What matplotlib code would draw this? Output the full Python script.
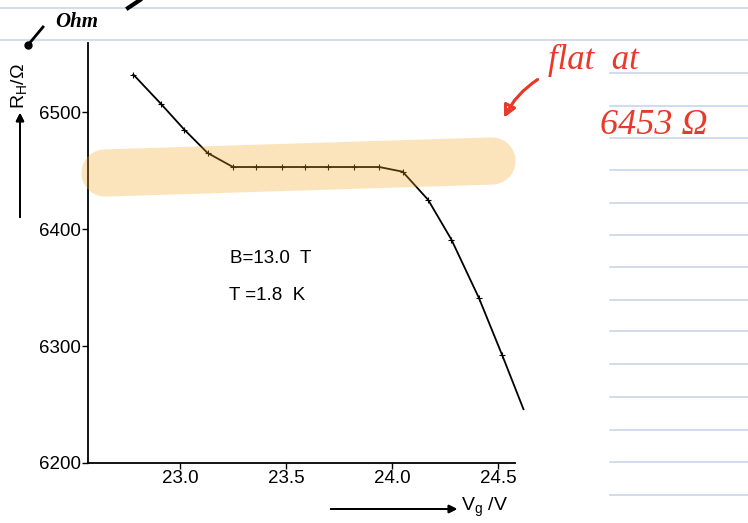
import matplotlib.pyplot as plt
from matplotlib.lines import Line2D

plt.rcParams['font.family'] = ['Liberation Sans', 'DejaVu Sans']
plt.rcParams['mathtext.fontset'] = 'custom'
plt.rcParams['mathtext.rm'] = 'Liberation Sans'

# gate voltage (V) and Hall resistance (Ohm)
v_gate = [22.78, 22.91, 23.02, 23.13, 23.25, 23.36, 23.48, 23.59, 23.70,
          23.82, 23.94, 24.05, 24.17, 24.28, 24.41, 24.52]
r_hall = [6532, 6507, 6485, 6465, 6453, 6453, 6453, 6453, 6453,
          6453, 6453, 6449, 6425, 6391, 6341, 6292]
v_end, r_end = 24.62, 6246
x_ticks = [23.0, 23.5, 24.0, 24.5]
x_ticklabels = ['23.0', '23.5', '24.0', '24.5']
y_ticks = [6200, 6300, 6400, 6500]

W, H = 748, 523


def px(x, y):
    return x / W, 1 - y / H


fig = plt.figure(figsize=(W / 100, H / 100), dpi=100)

# notebook ruling
rule = '#c9d5e6'
for y in [8, 40]:
    fig.add_artist(Line2D([0, 1], [1 - y / H] * 2, color=rule, lw=1.2, zorder=0))
for y in [73, 106, 138, 170, 203, 235, 267, 300, 331, 364, 397, 430, 462, 495]:
    fig.add_artist(Line2D([610 / W, 1], [1 - y / H] * 2, color=rule, lw=1.2, zorder=0))

ax = fig.add_axes([88 / W, 60 / H, 427 / W, 420 / H])
ax.patch.set_alpha(0)
ax.plot(v_gate + [v_end], r_hall + [r_end], color='black', lw=1.3, clip_on=False)
ax.plot(v_gate, r_hall, ls='none', marker='+', ms=4, mew=0.8, color='black', clip_on=False)
ax.set_xlim(22.566, 24.58)
ax.set_ylim(6200, 6559)
ax.set_xticks(x_ticks)
ax.set_xticklabels(x_ticklabels)
ax.set_yticks(y_ticks)
for s in ['top', 'right']:
    ax.spines[s].set_visible(False)
for s in ['left', 'bottom']:
    ax.spines[s].set_linewidth(1.3)
ax.tick_params(labelsize=13.5, length=4, width=1, direction='out', pad=1)
ax.text(*px(230, 258), 'B=13.0  T', transform=fig.transFigure, fontsize=13.5, va='center')
ax.text(*px(229, 295), 'T =1.8  K', transform=fig.transFigure, fontsize=13.5, va='center')

# axis labels with arrows
fig.text(*px(20, 86), r'R$_\mathregular{H}$/Ω', rotation=90, fontsize=14,
         ha='center', va='center')
fig.add_artist(plt.annotate('', xy=px(20, 110), xytext=px(20, 220),
                            xycoords='figure fraction',
                            arrowprops=dict(arrowstyle='-|>', color='black', lw=1.3,
                                            mutation_scale=12)))
fig.text(*px(461, 507), r'V$_\mathregular{g}$ /V', fontsize=14, ha='left', va='center')
fig.add_artist(plt.annotate('', xy=px(460, 509), xytext=px(328, 509),
                            xycoords='figure fraction',
                            arrowprops=dict(arrowstyle='-|>', color='black', lw=1.3,
                                            mutation_scale=12)))

# highlighter band over the plateau
fig.add_artist(Line2D([105 / W, 492 / W], [1 - 173 / H, 1 - 161 / H], lw=34,
                      color='#f5a623', alpha=0.3, solid_capstyle='round', zorder=5))

# handwritten notes
red = '#e8392a'
fig.text(*px(548, 60), 'flat  at', color=red, fontsize=25, style='italic',
         family='Liberation Serif', va='center')
fig.text(*px(600, 126), '6453 Ω', color=red, fontsize=26, style='italic',
         family='Liberation Serif', va='center')
fig.add_artist(plt.annotate('', xy=px(503, 120), xytext=px(540, 78),
                            xycoords='figure fraction',
                            arrowprops=dict(arrowstyle='-|>', color=red, lw=2,
                                            mutation_scale=18, fill=False,
                                            connectionstyle='arc3,rad=0.15')))
fig.text(*px(55, 22), 'Ohm', fontsize=15, style='italic', weight='bold',
         family='Liberation Serif', va='center')
fig.add_artist(Line2D([28 / W, 43 / W], [1 - 45 / H, 1 - 27 / H], color='black', lw=2))
fig.add_artist(Line2D([28 / W], [1 - 45 / H], marker='o', ms=5, color='black'))
fig.add_artist(Line2D([128 / W, 140 / W], [1 - 8 / H, 1 - 0 / H], color='black', lw=3))

fig.savefig('out.png', dpi=100)
